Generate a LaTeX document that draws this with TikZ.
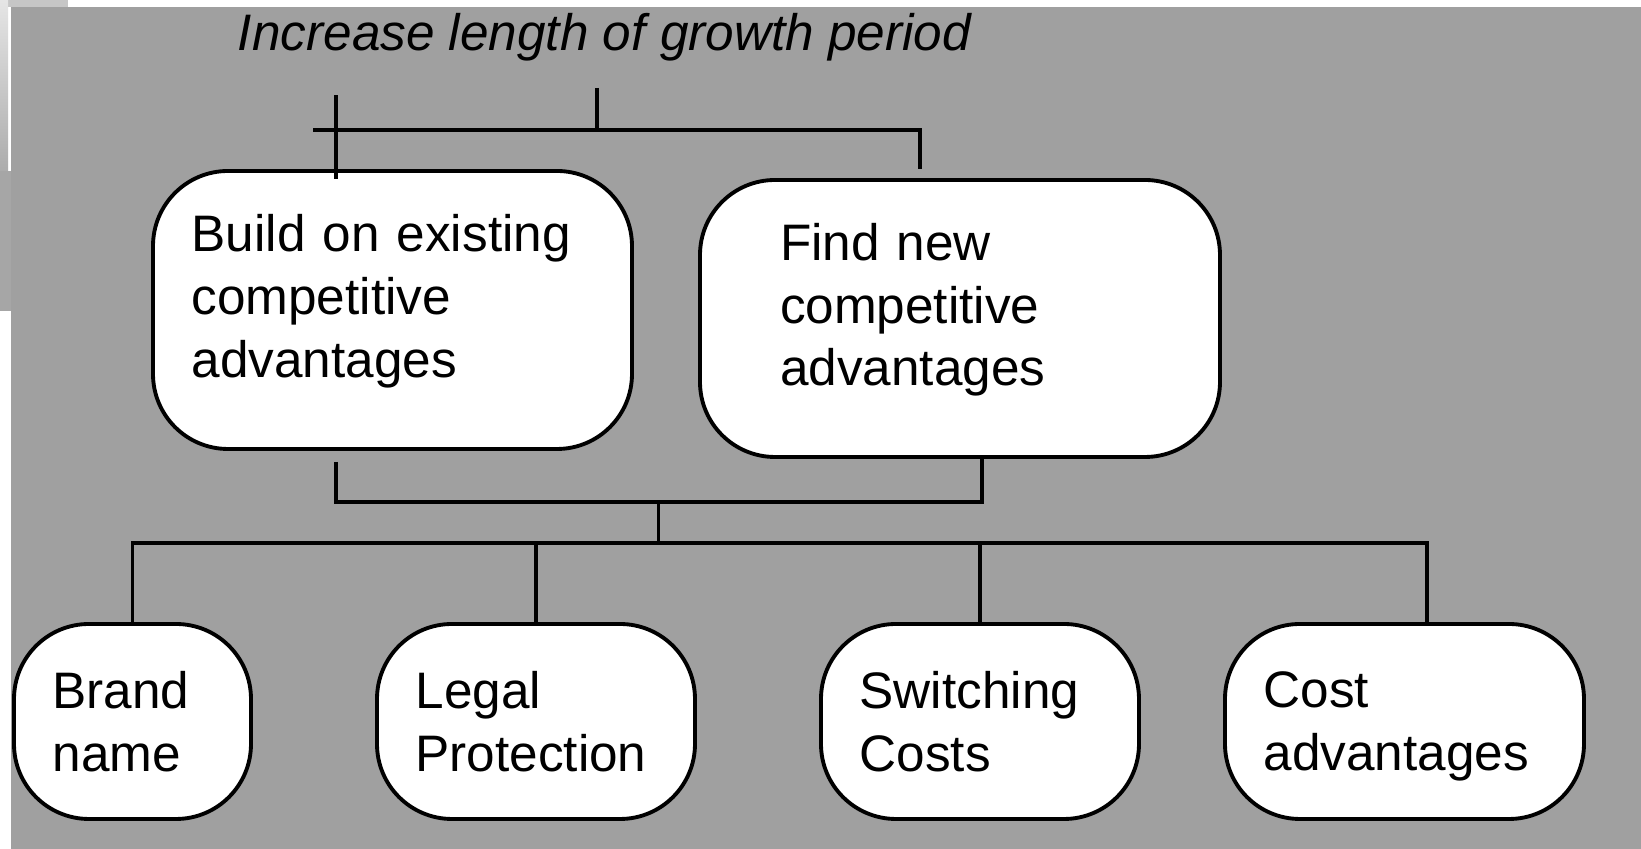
\documentclass[tikz,border=0pt]{standalone}
\usepackage{fontspec}
\setmainfont{Liberation Sans}

\definecolor{slidegray}{HTML}{A0A0A0}
\newcommand{\boxtail}{\rule[-0.28cm]{0pt}{0pt}}

\begin{document}
\begin{tikzpicture}[
		box/.style={draw, fill=white, line width=1.1pt, rounded corners=0.75cm, align=left, inner ysep=0pt, font=\fontsize{14.6}{17.9}\selectfont},
		link/.style={line width=1.05pt},
	]
		\useasboundingbox (0,0) rectangle (16.41,8.49);
		\fill[white] (0,0) rectangle (16.41,8.49);
		\fill[gray!45] (0,8.42) rectangle (0.68,8.49);
		\shade[top color=gray!20, bottom color=gray!65] (0,6.78) rectangle (0.08,8.49);
		\fill[gray!70] (0,5.38) rectangle (0.11,6.78);
		\fill[slidegray] (0.11,0) rectangle (16.41,8.42);

		\node[anchor=base, font=\fontsize{14.6}{17.9}\selectfont\itshape] (title) at (6.045,7.98) {Increase length of growth period};

		\node[box, text width=4.02cm, minimum height=2.78cm, inner xsep=0.385cm] (build) at (3.925,5.39) {Build on existing\\competitive\\advantages\boxtail};
		\node[box, text width=3.60cm, minimum height=2.77cm, inner xsep=0.80cm] (find) at (9.60,5.305) {Find new\\competitive\\advantages\boxtail};

		\node[box, text width=1.60cm, minimum height=1.95cm, inner xsep=0.385cm] (brand) at (1.325,1.275) {Brand\\name};
		\node[box, text width=2.41cm, minimum height=1.95cm, inner xsep=0.385cm] (legal) at (5.36,1.275) {Legal\\Protection};
		\node[box, text width=2.41cm, minimum height=1.95cm, inner xsep=0.385cm] (switch) at (9.80,1.275) {Switching\\Costs};
		\node[box, text width=2.82cm, minimum height=1.95cm, inner xsep=0.385cm] (cost) at (14.045,1.275) {Cost\\\smash{advantages}};

		% bracket under the title
		\coordinate (goal) at (5.97,7.61);
		\coordinate (split) at (5.97,7.19);
		\coordinate (lend) at (3.13,7.19);
		\path (build.north) ++(-0.565,0.74) coordinate (lpost);
		\path (build.north) ++(-0.565,-0.10) coordinate (ltop);
		\path (find.north) ++(-0.40,0.09) coordinate (rtop);
		\draw[link] (goal) -- (split);
		\draw[link] (lend) -| (rtop);
		\draw[link] (lpost) -- (ltop);

		% bracket joining the two strategies
		\path (build.south) ++(-0.565,-0.11) coordinate (lleg);
		\path (find.south) ++(0.22,0) coordinate (rleg);
		\coordinate (hub) at (6.585,3.47);
		\coordinate (bus) at (6.585,3.06);
		\draw[link] (lleg) |- (hub) -| (rleg);
		\draw[link] (hub) -- (bus);

		% bus down to the four sources
		\path (cost.north) ++(0.225,0) coordinate (cdrop);
		\draw[link] (brand.north) |- (bus -| cdrop) -- (cdrop);
		\draw[link] (legal.north) -- (legal.north |- bus);
		\draw[link] (switch.north) -- (switch.north |- bus);
	\end{tikzpicture}
\end{document}
